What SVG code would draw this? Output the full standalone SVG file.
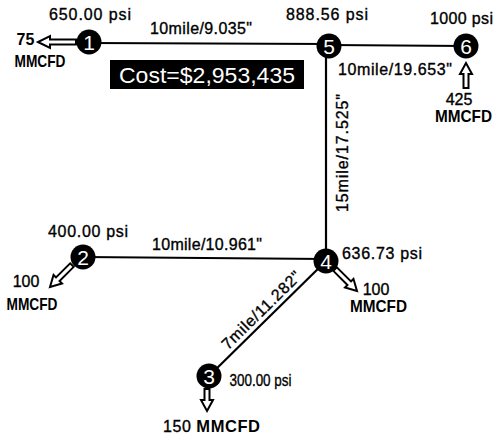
<svg xmlns="http://www.w3.org/2000/svg" width="496" height="446" viewBox="0 0 496 446">
<style>
text{font-family:"Liberation Sans",Arial,sans-serif;fill:#000;font-size:16px;stroke:#000;stroke-width:0.35}
.pipe{stroke:#000;stroke-width:2.2;fill:none}
.node circle{fill:#000}
.node text{fill:#fff;stroke:none;font-size:21px;text-anchor:middle}
.arr{fill:#fff;stroke:#000;stroke-width:2;stroke-linejoin:miter}
.mid{text-anchor:middle}
.cost{fill:#fff;stroke:none;font-size:22px}
.unit{font-weight:bold;font-size:16.5px;stroke-width:0}
</style>
<rect width="496" height="446" fill="#fff"/>
<g id="connectors">
<line class="pipe" x1="89" y1="43" x2="329" y2="44"/>
<line class="pipe" x1="329" y1="45" x2="466" y2="46"/>
<line class="pipe" x1="326" y1="46" x2="326" y2="261"/>
<line class="pipe" x1="83" y1="257" x2="326" y2="259"/>
<line class="pipe" x1="326" y1="261" x2="209" y2="376"/>
<text x="201" y="34" class="mid" textLength="102" lengthAdjust="spacing">10mile/9.035"</text>
<text x="395" y="75" class="mid" textLength="114" lengthAdjust="spacing">10mile/19.653"</text>
<text transform="translate(348,153) rotate(-90)" class="mid" textLength="118" lengthAdjust="spacing">15mile/17.525"</text>
<text x="207" y="250" class="mid" textLength="110" lengthAdjust="spacing">10mile/10.961"</text>
<text transform="translate(265,314) rotate(-44.5)" class="mid" textLength="104" lengthAdjust="spacing">7mile/11.282"</text>
</g>
<g id="cost">
<rect x="110" y="60" width="194" height="29" fill="#000"/>
<text x="207" y="83" class="cost mid" textLength="176" lengthAdjust="spacingAndGlyphs">Cost=$2,953,435</text>
</g>
<g id="node1" class="node">
<path class="arr" d="M0,0 L-12,-6 V-2.5 H-38 V2.5 H-12 V6 Z" transform="translate(38,42) rotate(180)"/>
<circle cx="89" cy="42" r="12.5"/>
<text x="89" y="49.5">1</text>
</g>
<text x="90" y="20" class="mid" textLength="82" lengthAdjust="spacing">650.00 psi</text>
<text x="25.5" y="45" class="mid" style="font-weight:bold;stroke-width:0">75</text>
<text x="40" y="67" class="mid unit" textLength="51" lengthAdjust="spacingAndGlyphs">MMCFD</text>
<g id="node5" class="node">
<circle cx="329" cy="46" r="12.5"/>
<text x="329" y="53.5">5</text>
</g>
<text x="327" y="20" class="mid" textLength="82" lengthAdjust="spacing">888.56 psi</text>
<g id="node6" class="node">
<path class="arr" d="M0,0 L-11,-6 V-2.5 H-25 V2.5 H-11 V6 Z" transform="translate(466,63) rotate(-90)"/>
<circle cx="466" cy="46" r="12.5"/>
<text x="466" y="53.5">6</text>
</g>
<text x="461.5" y="24" class="mid" textLength="63" lengthAdjust="spacing">1000 psi</text>
<text x="459" y="105" class="mid">425</text>
<text x="463.5" y="122" class="mid unit" textLength="57" lengthAdjust="spacingAndGlyphs">MMCFD</text>
<g id="node2" class="node">
<path class="arr" d="M0,0 L-11,-6 V-2.5 H-31 V2.5 H-11 V6 Z" transform="translate(50,287) rotate(135)"/>
<circle cx="83" cy="257" r="12.5"/>
<text x="83" y="264.5">2</text>
</g>
<text x="88" y="237" class="mid" textLength="80" lengthAdjust="spacing">400.00 psi</text>
<text x="26" y="287" class="mid">100</text>
<text x="32" y="310" class="mid unit" textLength="51" lengthAdjust="spacingAndGlyphs">MMCFD</text>
<g id="node4" class="node">
<path class="arr" d="M0,0 L-11,-6 V-2.5 H-31 V2.5 H-11 V6 Z" transform="translate(357,291) rotate(45)"/>
<circle cx="326" cy="261" r="12.5"/>
<text x="326" y="268.5">4</text>
</g>
<text x="382" y="259" class="mid" textLength="80" lengthAdjust="spacing">636.73 psi</text>
<text x="376" y="295" class="mid">100</text>
<text x="378.5" y="312" class="mid unit" textLength="57" lengthAdjust="spacingAndGlyphs">MMCFD</text>
<g id="node3" class="node">
<path class="arr" d="M0,0 L-11,-6 V-2.5 H-22 V2.5 H-11 V6 Z" transform="translate(207,411) rotate(90)"/>
<circle cx="209" cy="376" r="12.5"/>
<text x="209" y="383.5">3</text>
</g>
<text x="260.5" y="386" class="mid" textLength="62" lengthAdjust="spacingAndGlyphs">300.00 psi</text>
<text x="211.5" y="432" class="mid" textLength="97" lengthAdjust="spacing">150 <tspan class="unit"> MMCFD</tspan></text>
</svg>
